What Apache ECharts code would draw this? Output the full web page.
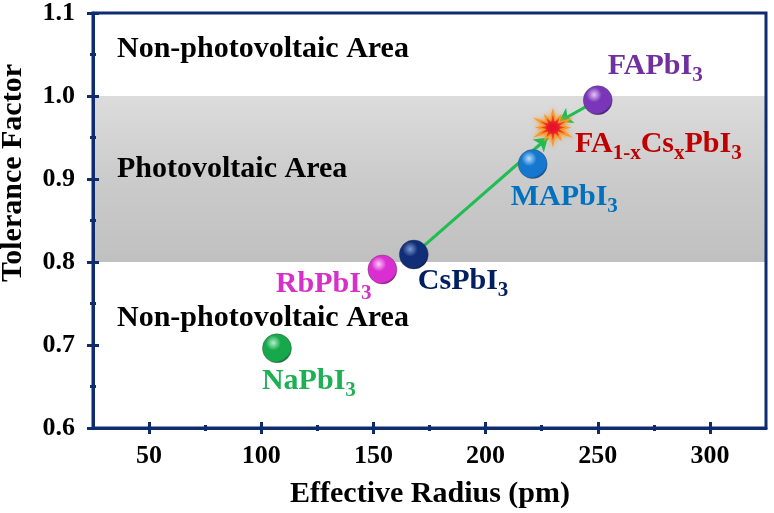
<!DOCTYPE html>
<html>
<head>
<meta charset="utf-8">
<script src="https://cdn.jsdelivr.net/npm/echarts@6/dist/echarts.min.js"></script>
<style>html,body{margin:0;padding:0;background:#fff}#c{width:774px;height:513px}</style>
</head>
<body>
<div id="c"></div>
<script>
// ---- data ----
const compounds = ['FAPbI3', 'FA1-xCsxPbI3', 'MAPbI3', 'CsPbI3', 'RbPbI3', 'NaPbI3'];
const effectiveRadius = [250, 230, 221, 168, 154, 107];
const toleranceFactor = [0.995, 0.962, 0.918, 0.809, 0.791, 0.696];
const xMajorTicks = [50, 100, 150, 200, 250, 300];
const xMinorTicks = [75, 125, 175, 225, 275];
const xRange = [25, 325];
const yRange = [0.6, 1.1];
const pvBand = [0.8, 1.0];
const arrowStart = [[168, 0.809], [250, 0.995]];
const arrowEnd = [[227.8, 0.950], [232.7, 0.969]];
const areaTexts = ['Non-photovoltaic Area', 'Photovoltaic Area', 'Non-photovoltaic Area'];

// ---- styles ----
const FONT = '"Liberation Serif", "Times New Roman", serif';
const NAVY = '#0f2c6e';
const labelColors = ['#7030a0', '#c00000', '#0070c0', '#002060', '#d530c8', '#1eb055'];
const labelRich = [
  '{m|FAPbI}{s|3}',
  '{m|FA}{s|1-x}{m|Cs}{s|x}{m|PbI}{s|3}',
  '{m|MAPbI}{s|3}',
  '{m|CsPbI}{s|3}',
  '{m|RbPbI}{s|3}',
  '{m|NaPbI}{s|3}'
];
const labelOffsets = [[10, -34], [22, 17], [-22, 33], [4, 27], [-11, 15], [-15, 33]];
const labelAlign = ['left', 'left', 'left', 'left', 'right', 'left'];
const ballShades = [
  ['#e2c6fa', '#7a36b8', '#33105e'],
  null,
  ['#b5defc', '#1677cf', '#083668'],
  ['#7d9ad6', '#112f78', '#041030'],
  ['#ffc8f9', '#d92fd0', '#7a0c70'],
  ['#b0f2c8', '#17a84c', '#075222']
];

function starPath(n) {
  let d = '';
  for (let i = 0; i < 2 * n; i++) {
    const a = Math.PI * i / n - Math.PI / 2;
    const r = i % 2 === 0 ? (i % 4 === 0 ? 50 : 40) : 22;
    d += (i === 0 ? 'M' : 'L') + (50 + r * Math.cos(a)).toFixed(1) + ' ' + (50 + r * Math.sin(a)).toFixed(1) + ' ';
  }
  return 'path://' + d + 'Z';
}

const scatterData = compounds.map((name, i) => {
  const isStar = ballShades[i] === null;
  const item = {
    name: name,
    value: [effectiveRadius[i], toleranceFactor[i]],
    label: {
      show: true,
      position: 'inside',
      align: labelAlign[i],
      verticalAlign: 'middle',
      offset: labelOffsets[i],
      opacity: 1,
      formatter: labelRich[i],
      rich: {
        m: { fontFamily: FONT, fontWeight: 'bold', fontSize: 30, color: labelColors[i], lineHeight: 40 },
        s: { fontFamily: FONT, fontWeight: 'bold', fontSize: 21, color: labelColors[i], lineHeight: 20, verticalAlign: 'bottom' }
      }
    }
  };
  if (isStar) {
    item.symbol = starPath(12);
    item.symbolSize = 33;
    item.itemStyle = { color: '#e8112a', borderColor: '#f89a2a', borderWidth: 1.5, opacity: 1,
      shadowColor: 'rgba(247,147,30,0.8)', shadowBlur: 4 };
  } else {
    const sh = ballShades[i];
    item.symbol = 'circle';
    item.symbolSize = 29;
    item.itemStyle = {
      opacity: 1,
      color: { type: 'radial', x: 0.38, y: 0.32, r: 0.72,
        colorStops: [{ offset: 0, color: sh[0] }, { offset: 0.35, color: sh[1] }, { offset: 0.85, color: sh[1] }, { offset: 1, color: sh[2] }] },
      borderColor: 'rgba(60,60,60,0.35)', borderWidth: 1
    };
  }
  return item;
});

const tickLabelStyle = { fontFamily: FONT, fontWeight: 'bold', fontSize: 26, color: '#000' };

function xAxisLayer(values, len, inside, withLine) {
  return {
    type: 'value', position: 'bottom', min: xRange[0], max: xRange[1], z: 5,
    axisLine: { show: withLine, lineStyle: { color: NAVY, width: 3 } },
    splitLine: { show: false },
    axisTick: { show: true, inside: inside, length: len, customValues: values, lineStyle: { color: NAVY, width: 3 } },
    axisLabel: withLine ? Object.assign({ show: true, margin: 15, customValues: xMajorTicks }, tickLabelStyle) : { show: false }
  };
}
function yAxisLayer(inside, withLine) {
  return {
    type: 'value', position: 'left', min: yRange[0], max: yRange[1], interval: 0.1, z: 5,
    axisLine: { show: withLine, lineStyle: { color: NAVY, width: 3 } },
    splitLine: { show: false },
    axisTick: { show: true, inside: inside, length: 6, lineStyle: { color: NAVY, width: 3 } },
    minorTick: { show: true, splitNumber: 2, length: 3, lineStyle: { color: NAVY, width: 3 } },
    axisLabel: withLine ? Object.assign({ show: true, margin: 18, formatter: v => v.toFixed(1) }, tickLabelStyle) : { show: false }
  };
}

const chart = echarts.init(document.getElementById('c'), null, { renderer: 'canvas' });
chart.setOption({
  backgroundColor: '#fff',
  animation: false,
  grid: { left: 93, right: 8, top: 9, bottom: 85, show: true, z: 10, backgroundColor: 'transparent', borderColor: NAVY, borderWidth: 3 },
  xAxis: [
    xAxisLayer(xMajorTicks, 6, false, true),
    xAxisLayer(xMajorTicks, 6, true, false),
    xAxisLayer(xMinorTicks, 3, false, false),
    xAxisLayer(xMinorTicks, 3, true, false)
  ],
  yAxis: [yAxisLayer(false, true), yAxisLayer(true, false)],
  series: [
    {
      type: 'scatter', xAxisIndex: 0, yAxisIndex: 0, data: [], silent: true, z: 1,
      markArea: {
        silent: true,
        itemStyle: { opacity: 1, color: { type: 'linear', x: 0, y: 0, x2: 0, y2: 1,
          colorStops: [{ offset: 0, color: '#dcdcdc' }, { offset: 0.5, color: '#cbcbcb' }, { offset: 1, color: '#c0c0c0' }] } },
        data: [[{ xAxis: xRange[0], yAxis: pvBand[1] }, { xAxis: xRange[1], yAxis: pvBand[0] }]]
      }
    },
    {
      type: 'lines', coordinateSystem: 'cartesian2d', xAxisIndex: 0, yAxisIndex: 0, z: 3,
      symbol: ['none', 'arrow'], symbolSize: 13,
      lineStyle: { color: '#1fbd52', width: 3, opacity: 1 },
      data: arrowStart.map((s, i) => ({ coords: [s, arrowEnd[i]] }))
    },
    {
      type: 'scatter', xAxisIndex: 0, yAxisIndex: 0, z: 4,
      itemStyle: { opacity: 1 },
      data: scatterData
    }
  ],
  graphic: [
    { type: 'text', x: 117, y: 49, style: { text: areaTexts[0], font: 'bold 30px ' + FONT, fill: '#000', textVerticalAlign: 'middle', verticalAlign: 'middle' }, z: 20 },
    { type: 'text', x: 117, y: 169, style: { text: areaTexts[1], font: 'bold 30px ' + FONT, fill: '#000', textVerticalAlign: 'middle', verticalAlign: 'middle' }, z: 20 },
    { type: 'text', x: 117, y: 318, style: { text: areaTexts[2], font: 'bold 30px ' + FONT, fill: '#000', textVerticalAlign: 'middle', verticalAlign: 'middle' }, z: 20 },
    { type: 'text', x: 430, y: 494, style: { text: 'Effective Radius (pm)', font: 'bold 30px ' + FONT, fill: '#000', textAlign: 'center', align: 'center', textVerticalAlign: 'middle', verticalAlign: 'middle' }, z: 20 },
    { type: 'text', x: 13, y: 173, rotation: Math.PI / 2, style: { text: 'Tolerance Factor', font: 'bold 30px ' + FONT, fill: '#000', textAlign: 'center', align: 'center', textVerticalAlign: 'middle', verticalAlign: 'middle' }, z: 20 }
  ]
});
</script>
</body>
</html>
